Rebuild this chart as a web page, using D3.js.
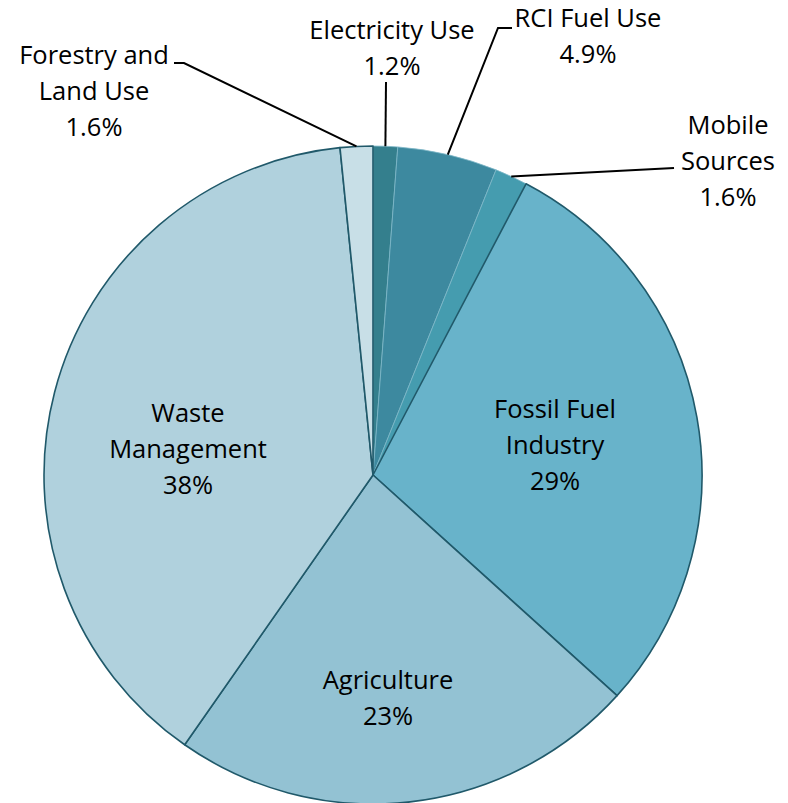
<!DOCTYPE html>
<html><head><meta charset="utf-8">
<script src="https://cdn.jsdelivr.net/npm/d3@7"></script>
<style>body{margin:0;background:#fff}svg{display:block}text{font-family:"Open Sans",Lato,sans-serif;font-size:25.5px;fill:#000}</style>
</head><body>
<svg id="c" width="788" height="803"></svg>
<script>
const categories = ["Electricity Use","RCI Fuel Use","Mobile Sources","Fossil Fuel Industry","Agriculture","Waste Management","Forestry and Land Use"];
const values = [1.2, 4.9, 1.6, 29, 23, 38.7, 1.6];
const valueLabels = ["1.2%","4.9%","1.6%","29%","23%","38%","1.6%"];
const colors = ["#347f8d","#3d899f","#459caf","#68b3ca","#93c2d3","#b0d1dd","#c8dfe7"];
const labelLines = [["Electricity Use"],["RCI Fuel Use"],["Mobile","Sources"],["Fossil Fuel","Industry"],["Agriculture"],["Waste","Management"],["Forestry and","Land Use"]];
// label layout: [x, first baseline y, anchor]
const labelPos = [[392,39,"middle"],[588,27,"middle"],[728,134,"middle"],[555,418,"middle"],[388,689,"middle"],[188,422,"middle"],[94,64,"middle"]];
// leader elbows
const leaders = [[[386,82]],[[512,28],[498,28]],[[674,168]],null,null,null,[[174,63],[184,63]]];
const darkStroke = [false,false,false,true,true,true,true];

const cx=373, cy=475, r=329;
const svg=d3.select("#c");
const g=svg.append("g").attr("transform",`translate(${cx},${cy})`);
const data=categories.map((c,i)=>({c,v:values[i],i}));
const pie=d3.pie().value(d=>d.v).sort(null);
const arcs=pie(data);
const arc=d3.arc().innerRadius(0).outerRadius(r);
const order=arcs.filter(a=>!darkStroke[a.data.i]).concat(arcs.filter(a=>darkStroke[a.data.i]));
g.selectAll("path").data(order).join("path")
 .attr("d",arc)
 .attr("fill",d=>colors[d.data.i])
 .attr("stroke",d=>darkStroke[d.data.i]?"#20596a":"#7fb8c8")
 .attr("stroke-width",d=>darkStroke[d.data.i]?1.6:0.8)
 .attr("stroke-linejoin","round");

arcs.forEach(a=>{
  const L=leaders[a.data.i]; if(!L) return;
  const m=(a.startAngle+a.endAngle)/2;
  const end=[cx+r*Math.sin(m), cy-r*Math.cos(m)];
  svg.append("path").attr("d",d3.line()(L.concat([end]))).attr("fill","none").attr("stroke","#000").attr("stroke-width",2);
});
arcs.forEach(a=>{
  const i=a.data.i, p=labelPos[i];
  const t=svg.append("text").attr("x",p[0]).attr("y",p[1]).attr("text-anchor",p[2]);
  labelLines[i].concat([valueLabels[i]]).forEach((s,k)=>t.append("tspan").attr("x",p[0]).attr("y",p[1]+k*36).text(s));
});
</script>
</body></html>
